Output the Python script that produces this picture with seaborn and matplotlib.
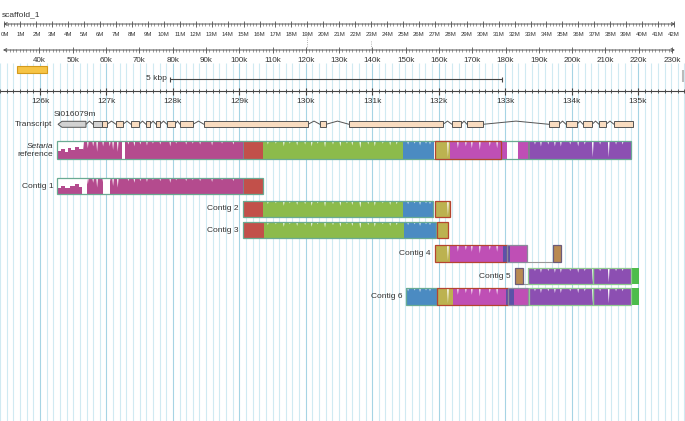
import numpy as np
import pandas as pd
import matplotlib
matplotlib.use("Agg")
import matplotlib.pyplot as plt
from matplotlib.patches import Rectangle
import seaborn as sns

sns.set_theme(style="white")
plt.rcParams['font.family'] = ['Liberation Sans', 'DejaVu Sans']

# Data
#====================================================================================

# overview rulers
scaffold_ticks_m = list(range(0, 43))
overview_ticks_k = list(range(40, 231, 10))
main_ticks_kb = [126, 127, 128, 129, 130, 131, 132, 133, 134, 135]
highlight_k = (33.2, 42.3)
scale_bar_start_kb = 127.96
scale_bar_len_kb = 5

# transcript Si016079m (kb)
exon_starts = [126.271, 126.798, 126.933, 127.144, 127.370, 127.595, 127.746, 127.912, 128.107,
               128.468, 130.214, 130.651, 132.201, 132.427, 133.661, 133.917, 134.173, 134.414, 134.640]
exon_ends = [126.692, 126.933, 127.008, 127.249, 127.490, 127.656, 127.806, 128.032, 128.303,
             130.034, 130.305, 132.066, 132.337, 132.668, 133.812, 134.083, 134.309, 134.519, 134.925]

# identity dips along the reference (kb, depth as fraction of bar)
notch_pos = [126.65, 126.72, 126.80, 126.86, 126.95, 127.05, 127.10, 127.17, 127.33, 127.42, 127.51,
             127.61, 127.70, 127.81, 127.96, 128.05, 128.20, 128.30, 128.41, 128.59, 128.74, 128.91,
             129.43, 129.55, 129.67, 129.76, 129.87, 129.99, 130.09, 130.18, 130.29, 130.41, 130.52,
             130.62, 130.70, 130.82, 130.94, 131.04, 131.16, 131.27, 131.37,
             131.54, 131.64, 131.72, 131.81, 131.87, 132.14,
             132.29, 132.41, 132.50, 132.62, 132.77, 132.88,
             133.45, 133.54, 133.65, 133.75, 133.84, 133.98, 134.10, 134.20, 134.32, 134.43,
             134.56, 134.67, 134.77]
notch_depth = [0.5, 0.4, 0.3, 0.6, 0.3, 0.3, 0.5, 0.6, 0.2, 0.3, 0.2,
               0.25, 0.15, 0.2, 0.3, 0.15, 0.2, 0.15, 0.2, 0.25, 0.15, 0.2,
               0.2, 0.15, 0.3, 0.15, 0.25, 0.2, 0.3, 0.15, 0.35, 0.2, 0.3,
               0.15, 0.25, 0.4, 0.2, 0.3, 0.15, 0.25, 0.2,
               0.2, 0.15, 0.25, 0.15, 0.2, 0.9,
               0.4, 0.3, 0.4, 0.5, 0.3, 0.4,
               0.2, 0.3, 0.2, 0.3, 0.3, 0.2, 0.3, 0.2, 0.9, 0.2,
               0.9, 0.2, 0.2]

# aligned blocks per row: (start kb, end kb, colour key)
ref_blocks = [(126.263, 129.048, 'mag'), (129.048, 129.075, 'sep'), (129.075, 129.349, 'red'),
              (129.349, 131.471, 'grn'), (131.471, 131.935, 'blu'), (131.945, 132.171, 'olv'),
              (132.171, 133.029, 'pnk'), (133.194, 133.345, 'pnk'), (133.345, 133.368, 'sep'),
              (133.368, 134.888, 'pur')]
ref_gaps = [(126.263, 126.31, 0.55), (126.31, 126.37, 0.45), (126.37, 126.42, 0.6),
            (126.42, 126.47, 0.4), (126.47, 126.53, 0.5), (126.53, 126.58, 0.35),
            (126.58, 126.64, 0.45), (127.23, 127.28, 1.0)]
ref_outlines = [(126.263, 134.888, 'teal'), (131.945, 132.939, 'red')]

c1_blocks = [(126.263, 129.048, 'mag'), (129.048, 129.075, 'sep'), (129.075, 129.36, 'red')]
c1_gaps = [(126.263, 126.32, 0.6), (126.32, 126.38, 0.5), (126.38, 126.45, 0.65),
           (126.45, 126.52, 0.5), (126.52, 126.58, 0.4), (126.58, 126.632, 0.55),
           (126.632, 126.707, 1.0), (126.948, 127.054, 1.0)]
c1_outlines = [(126.263, 129.36, 'teal')]

c2_blocks = [(129.055, 129.349, 'red'), (129.349, 131.471, 'grn'), (131.471, 131.92, 'blu'),
             (131.945, 132.171, 'olv')]
c2_outlines = [(129.055, 131.92, 'teal'), (131.945, 132.171, 'red')]

c3_blocks = [(129.055, 129.375, 'red'), (129.375, 131.48, 'grn'), (131.48, 131.96, 'blu'),
             (131.975, 132.14, 'olv')]
c3_outlines = [(129.055, 131.96, 'teal'), (131.975, 132.14, 'red')]

c4_blocks = [(131.945, 132.171, 'olv'), (132.171, 132.97, 'pnk'), (132.97, 133.07, 'ind'),
             (133.07, 133.33, 'pnk'), (133.72, 133.84, 'brn')]
c4_outlines = [(131.945, 133.03, 'red'), (133.03, 133.33, 'gray'), (133.72, 133.84, 'brn')]
c4_links = [(133.33, 133.72)]

c5_blocks = [(133.15, 133.27, 'brn'), (133.345, 134.888, 'pur'), (134.888, 135.02, 'lim')]
c5_outlines = [(133.15, 133.27, 'brn'), (133.345, 134.32, 'lgrn'), (134.32, 134.888, 'lgrn')]
c5_links = [(133.27, 133.345)]

c6_blocks = [(131.51, 131.975, 'blu'), (131.99, 132.22, 'olv'), (132.22, 133.01, 'pnk'),
             (133.01, 133.13, 'ind'), (133.13, 133.345, 'pnk'), (133.36, 134.888, 'pur'),
             (134.888, 135.02, 'lim')]
c6_outlines = [(131.51, 131.975, 'teal'), (131.975, 133.045, 'red'), (133.045, 133.345, 'gray'),
               (133.36, 134.32, 'lgrn'), (134.32, 134.888, 'lgrn')]

pal = {'mag': '#b44b8e', 'red': '#c2504a', 'grn': '#8cbb4b', 'blu': '#4b8bc2', 'olv': '#bcb250',
       'pnk': '#bf4fb5', 'pur': '#8c4fb2', 'lim': '#4cbc4c', 'sep': '#80808f', 'ind': '#5b52a8',
       'brn': '#b98a52'}
edges = {'teal': '#6aab93', 'red': '#b5452f', 'gray': '#8a8a9a', 'brn': '#6b5b7b', 'lgrn': '#8fca8f'}

# Figure / coordinate frames (y in pixels from the top)
#====================================================================================
W, H = 685, 421
fig = plt.figure(figsize=(W / 100, H / 100), dpi=100)


def frame(x0, per_px):
    a = fig.add_axes([0, 0, 1, 1], facecolor='none')
    a.set_xlim(x0, x0 + W * per_px)
    a.set_ylim(H, 0)
    a.axis('off')
    return a


ax = frame(125.398, 1 / 66.44)        # main view in kb
axm = frame(-0.282, 1 / 15.94)         # whole scaffold in Mb
axk = frame(28.135, 0.30039)           # overview in kb
txt = '#333333'

# grid lines every 100 bp
for g in np.arange(125.4, 135.75, 0.1):
    major = abs(g - round(g)) < 1e-6
    ax.vlines(g, 63, H, color='#a6d4e4' if major else '#d0eaf2', lw=0.8, zorder=0)

# scaffold ruler
axm.annotate('', xy=(42.08, 24), xytext=(-0.07, 24),
             arrowprops=dict(arrowstyle='<->', lw=0.7, color='#555', shrinkA=0, shrinkB=0, mutation_scale=5))
axm.vlines(np.arange(0, 42.01, 0.2), 22.5, 25.5, color='#555', lw=0.4)
axm.vlines(scaffold_ticks_m, 21, 27, color='#555', lw=0.6)
for m in scaffold_ticks_m:
    axm.text(m, 35, f'{m}M', ha='center', va='center', fontsize=4.3, color=txt)
axm.text(-0.15, 15, 'scaffold_1', ha='left', va='center', fontsize=6, color=txt)
axm.vlines([19, 23], [35, 41], [48, 48], color='#999', lw=0.6, linestyles=':')

# overview ruler
axk.annotate('', xy=(230.9, 50), xytext=(29.0, 50),
             arrowprops=dict(arrowstyle='<->', lw=0.7, color='#555', shrinkA=0, shrinkB=0, mutation_scale=5))
axk.vlines(np.arange(30, 231, 1), 48.5, 51.5, color='#555', lw=0.4)
axk.vlines(overview_ticks_k, 47, 53, color='#555', lw=0.6)
for k in overview_ticks_k:
    axk.text(k, 60, f'{k}k', ha='center', va='center', fontsize=5.8, color=txt)
axk.add_patch(Rectangle((highlight_k[0], 66), highlight_k[1] - highlight_k[0], 6.5,
                        facecolor='#f6c445', edgecolor='#d39a1c', lw=0.8, zorder=3))

# 5 kbp scale bar
sb_end = scale_bar_start_kb + scale_bar_len_kb
ax.hlines(79, scale_bar_start_kb, sb_end, color='#444', lw=0.8, zorder=3)
ax.vlines([scale_bar_start_kb, sb_end], 76.5, 81.5, color='#444', lw=0.8, zorder=3)
ax.text(scale_bar_start_kb - 0.05, 78.5, '5 kbp', ha='right', va='center', fontsize=6, color=txt)
ax.vlines(135.68, 70, 82, color='#bbb', lw=1.5)

# main ruler
ax.hlines(91, 125.398, 135.708, color='#444', lw=0.8, zorder=3)
ax.vlines(np.arange(125.4, 135.75, 0.1), 89.2, 92.8, color='#444', lw=0.6, zorder=3)
ax.vlines(main_ticks_kb, 87.5, 94.5, color='#444', lw=0.8, zorder=3)
for k in main_ticks_kb:
    ax.text(k, 101.5, f'{k}k', ha='center', va='center', fontsize=6, color=txt)

# transcript
ty, th = 124.3, 6
tr = pd.DataFrame({'start': exon_starts, 'end': exon_ends})
for i, row in tr.iterrows():
    s, e = row['start'], row['end']
    if i == 0:
        ax.fill([s, s + 0.06, e, e, s + 0.06], [ty, ty - th / 2, ty - th / 2, ty + th / 2, ty + th / 2],
                facecolor='#d2d2d2', edgecolor='#555', lw=0.7, zorder=3)
    else:
        ax.add_patch(Rectangle((s, ty - th / 2), e - s, th, facecolor='#d2d2d2' if i == 1 else '#f9dcc0',
                               edgecolor='#555', lw=0.7, zorder=3))
introns = []
for i in range(len(exon_starts) - 1):
    a, b = exon_ends[i], exon_starts[i + 1]
    if b - a > 0.01:
        introns += [(i, a, ty), (i, (a + b) / 2, ty - 3.2), (i, b, ty)]
intr = pd.DataFrame(introns, columns=['intron', 'x', 'y'])
sns.lineplot(data=intr, x='x', y='y', units='intron', estimator=None, color='#555', lw=0.7, ax=ax, zorder=2)
ax.set_xlim(125.398, 125.398 + W / 66.44)
ax.set_ylim(H, 0)
ax.axis('off')
ax.text(126.18, 125, 'Transcript', ha='right', va='center', fontsize=6, color=txt)
ax.text(126.2, 115, 'Si016079m', ha='left', va='center', fontsize=6, color=txt)


# alignment rows
def draw_row(top, h, blocks, gaps, outlines, links=()):
    for s, e, c in blocks:
        ax.broken_barh([(s, e - s)], (top, h), facecolors=pal[c], edgecolor='none', zorder=2)
    for p, d in zip(notch_pos, notch_depth):
        if any(s + 0.01 < p < e - 0.01 for s, e, c in blocks if c != 'brn'):
            ax.fill([p - 0.013, p + 0.013, p], [top, top, top + d * h], color='white', lw=0, zorder=3)
    for s, e, d in gaps:
        ax.broken_barh([(s, e - s)], (top, h * d), facecolors='white', edgecolor='none', zorder=3)
    for s, e, c in outlines:
        ax.add_patch(Rectangle((s, top), e - s, h, fill=False, edgecolor=edges[c], lw=0.9, zorder=4))
    for s, e in links:
        ax.hlines(top + h, s, e, color='#999', lw=0.8, zorder=2)


draw_row(141, 18, ref_blocks, ref_gaps, ref_outlines)
ax.text(126.196, 146, 'Setaria', ha='right', va='center', fontsize=6, style='italic', color=txt)
ax.text(126.196, 155, 'reference', ha='right', va='center', fontsize=6, color=txt)

rows = [('Contig 1', 178, 16, c1_blocks, c1_gaps, c1_outlines, []),
        ('Contig 2', 201, 16, c2_blocks, [], c2_outlines, []),
        ('Contig 3', 222, 16, c3_blocks, [], c3_outlines, []),
        ('Contig 4', 245, 17, c4_blocks, [], c4_outlines, c4_links),
        ('Contig 5', 268, 16, c5_blocks, [], c5_outlines, c5_links),
        ('Contig 6', 288, 17, c6_blocks, [], c6_outlines, [])]
for name, top, h, blocks, gaps, outl, links in rows:
    draw_row(top, h, blocks, gaps, outl, links)
    ax.text(blocks[0][0] - 0.06, top + h / 2, name, ha='right', va='center', fontsize=6, color=txt)

fig.savefig('out.png', dpi=100)
